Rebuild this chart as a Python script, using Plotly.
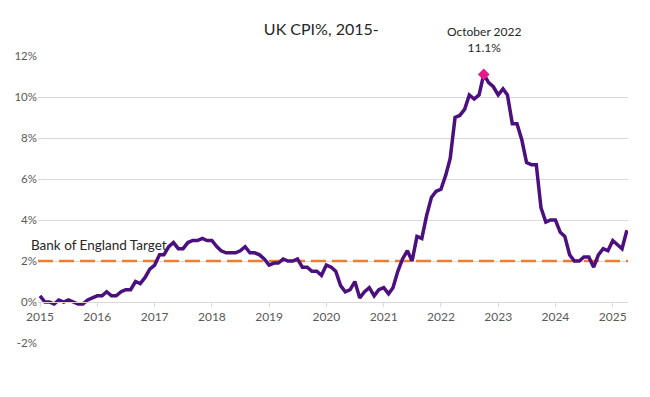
import plotly.graph_objects as go
import pandas as pd

cpi_2015 = [0.3, 0.0, 0.0, -0.1, 0.1, 0.0, 0.1, 0.0, -0.1, -0.1, 0.1, 0.2]
cpi_2016 = [0.3, 0.3, 0.5, 0.3, 0.3, 0.5, 0.6, 0.6, 1.0, 0.9, 1.2, 1.6]
cpi_2017 = [1.8, 2.3, 2.3, 2.7, 2.9, 2.6, 2.6, 2.9, 3.0, 3.0, 3.1, 3.0]
cpi_2018 = [3.0, 2.7, 2.5, 2.4, 2.4, 2.4, 2.5, 2.7, 2.4, 2.4, 2.3, 2.1]
cpi_2019 = [1.8, 1.9, 1.9, 2.1, 2.0, 2.0, 2.1, 1.7, 1.7, 1.5, 1.5, 1.3]
cpi_2020 = [1.8, 1.7, 1.5, 0.8, 0.5, 0.6, 1.0, 0.2, 0.5, 0.7, 0.3, 0.6]
cpi_2021 = [0.7, 0.4, 0.7, 1.5, 2.1, 2.5, 2.0, 3.2, 3.1, 4.2, 5.1, 5.4]
cpi_2022 = [5.5, 6.2, 7.0, 9.0, 9.1, 9.4, 10.1, 9.9, 10.1, 11.1, 10.7, 10.5]
cpi_2023 = [10.1, 10.4, 10.1, 8.7, 8.7, 7.9, 6.8, 6.7, 6.7, 4.6, 3.9, 4.0]
cpi_2024 = [4.0, 3.4, 3.2, 2.3, 2.0, 2.0, 2.2, 2.2, 1.7, 2.3, 2.6, 2.5]
cpi_2025 = [3.0, 2.8, 2.6, 3.5]

cpi = (cpi_2015 + cpi_2016 + cpi_2017 + cpi_2018 + cpi_2019 + cpi_2020
       + cpi_2021 + cpi_2022 + cpi_2023 + cpi_2024 + cpi_2025)
dates = pd.date_range("2015-01-01", periods=len(cpi), freq="MS")

target = 2.0
peak_label = "October 2022"
peak_date = pd.Timestamp("2022-10-01")
peak_value = 11.1
year_ticks = [pd.Timestamp(f"{y}-01-01") for y in range(2015, 2026)]
year_labels = [str(y) for y in range(2015, 2026)]
y_ticks = [-2, 0, 2, 4, 6, 8, 10, 12]
y_labels = [f"{v}%" for v in y_ticks]

FONT = "Lato"
x_start = pd.Timestamp("2014-12-19")
x_end = pd.Timestamp("2025-04-08")

fig = go.Figure()
fig.add_trace(go.Scatter(
    x=[x_start, x_end], y=[target, target], mode="lines",
    line=dict(color="#ED7D31", width=2.5, dash="15px,6px"),
    hoverinfo="skip", showlegend=False))
fig.add_trace(go.Scatter(
    x=dates, y=cpi, mode="lines",
    line=dict(color="#4B0F7E", width=3.5),
    showlegend=False))
fig.add_trace(go.Scatter(
    x=[peak_date], y=[peak_value], mode="markers",
    marker=dict(symbol="diamond", color="#E6198A", size=9),
    showlegend=False))
# invisible trace to carry the year axis placed at 0%
fig.add_trace(go.Scatter(
    x=[x_start, x_end], y=[0, 0], mode="lines", xaxis="x2",
    line=dict(color="rgba(0,0,0,0)", width=0), hoverinfo="skip", showlegend=False))

fig.add_annotation(x=peak_date, y=peak_value, text=f"{peak_label}<br>{peak_value}%",
                   showarrow=False, yanchor="bottom", yshift=17,
                   font=dict(family=FONT, size=12, color="#262626"))
fig.add_annotation(x=dates[0], y=target, text="Bank of England Target",
                   showarrow=False, xanchor="left", yanchor="bottom", xshift=-11, yshift=6,
                   font=dict(family=FONT, size=13.5, color="#262626"))

fig.update_layout(
    width=642, height=389,
    margin=dict(l=30, r=22, t=48, b=54, autoexpand=False),
    paper_bgcolor="white", plot_bgcolor="white",
    title=dict(text="UK CPI%, 2015-", x=0.488, xanchor="center", y=0.945, yanchor="middle",
               font=dict(family=FONT, size=16, color="#262626")),
    font=dict(family=FONT, color="#595959"),
    xaxis=dict(
        type="date", range=[x_start, x_end],
        showgrid=False, showline=False, showticklabels=False, ticks="",
        zeroline=False, automargin=False),
    xaxis2=dict(
        type="date", range=[x_start, x_end], overlaying="x",
        tickvals=year_ticks, ticktext=year_labels,
        showgrid=False, showline=True, linecolor="#d9d9d9", linewidth=1,
        ticks="outside", ticklen=4, tickcolor="#d9d9d9",
        tickfont=dict(family=FONT, size=12, color="#595959"),
        anchor="free", position=2/14, zeroline=False, automargin=False),
    yaxis=dict(
        range=[-2, 12], tickvals=y_ticks, ticktext=y_labels,
        showgrid=True, gridcolor="#d9d9d9", gridwidth=1,
        zeroline=False, showline=False, automargin=False,
        tickfont=dict(family=FONT, size=11.5, color="#595959"),
        ticks=""),
)

fig.write_html("out.html")
